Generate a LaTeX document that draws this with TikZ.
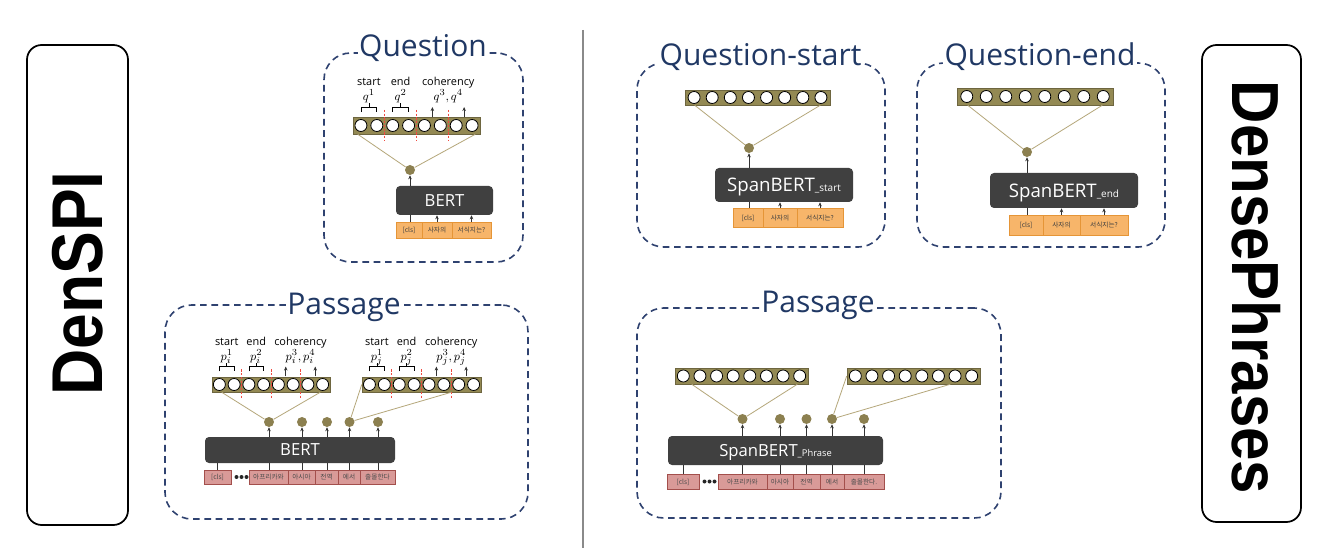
\documentclass[tikz,border=0pt]{standalone}
\usepackage{fontspec}
\usepackage{graphicx}
\usetikzlibrary{fit,calc,arrows.meta}
\newfontfamily\osans{Open Sans}
\newfontfamily\krf{Noto Sans CJK KR}
\newfontfamily\lsans{Liberation Sans}
\definecolor{navy}{HTML}{203864}
\definecolor{dashc}{HTML}{2F4270}
\definecolor{olive}{HTML}{938953}
\definecolor{olived}{HTML}{6E6640}
\definecolor{dotc}{HTML}{8C8050}
\definecolor{tanl}{HTML}{B5A77A}
\definecolor{bertc}{HTML}{404040}
\definecolor{orf}{HTML}{F7B56A}
\definecolor{ord}{HTML}{E59537}
\definecolor{pkf}{HTML}{D99A98}
\definecolor{pkd}{HTML}{A34F4C}
\definecolor{sepc}{HTML}{F04A40}
\definecolor{divc}{HTML}{8A8A8A}
\tikzset{
 dashbox/.style={draw=dashc, line width=1.2pt, dash pattern=on 5pt off 3.5pt, rounded corners=20pt, inner sep=0pt},
 ttl/.style={fill=white, text=navy, font=\osans\fontsize{22.5}{24}\selectfont, inner xsep=1pt, inner ysep=0pt, anchor=base},
 vbarbox/.style={fill=olive, draw=olived, line width=0.4pt, inner sep=0pt},
 circ/.style={circle, draw=black, line width=0.6pt, fill=white, minimum size=9pt, inner sep=0pt},
 dotn/.style={circle, fill=dotc, minimum size=7.5pt, inner sep=0pt},
 bertbox/.style={fill=bertc, rounded corners=3pt, inner sep=0pt, text=white},
 qtok/.style={fill=orf, draw=ord, line width=0.6pt, inner sep=0pt, font=\krf\fontsize{5}{6}\selectfont, text=black!75},
 ptok/.style={fill=pkf, draw=pkd, line width=0.6pt, inner sep=0pt, font=\krf\fontsize{5}{6}\selectfont, text=black!70},
 ln/.style={draw=black!80, line width=0.45pt},
 arr/.style={ln, -{Stealth[length=3pt,width=2.6pt]}},
 tanln/.style={draw=tanl, line width=0.6pt},
 sepl/.style={draw=sepc, line width=0.55pt, dash pattern=on 1.6pt off 1.2pt},
 brk/.style={draw=black, line width=0.5pt},
 lab/.style={font=\osans\fontsize{8.2}{9}\selectfont, inner sep=0pt, anchor=base},
 mlab/.style={font=\fontsize{9.5}{10}\selectfont, inner sep=0pt, anchor=base},
 sidebox/.style={draw=black, line width=1.3pt, rounded corners=11pt, inner sep=0pt},
 bul/.style={circle, fill=black!85, minimum size=3pt, inner sep=0pt},
}
\newcommand{\rbox}[7]{%
  \pgfmathsetmacro{\rbw}{(#5-#3)*0.75}%
  \pgfmathsetmacro{\rbh}{(#6-#4)*0.75}%
  \node[#1, minimum width=\rbw pt, minimum height=\rbh pt, text depth=0pt] (#2) at ({(#3+#5)/2},{(#4+#6)/2}) {#7};
}
\newcommand{\vecbar}[5]{%
  \node[vbarbox, fit={(#2,#3) (#4,#5)}] (#1) {};
  \pgfmathsetmacro{\vbpitch}{(#4-#2)/8}%
  \pgfmathsetmacro{\vbcy}{(#3+#5)/2}%
  \foreach \i in {1,...,8}{%
    \pgfmathsetmacro{\vbcx}{#2+(\i-0.5)*\vbpitch}%
    \node[circ] (#1-\i) at (\vbcx,\vbcy) {};
  }%
}
\newcommand{\barnotes}[5]{%
  \foreach \a/\b in {1/2,2/3,3/4,4/5,5/6,6/7,7/8}{\coordinate (#1-m\a\b) at ($(#1-\a)!0.5!(#1-\b)$);}%
  \foreach \p in {23,45,67}{\draw[sepl] ($(#1-m\p)+(0,-15.5*#5)$) -- ($(#1-m\p)+(0,14.5)$);}%
  \foreach \a/\b in {1/2,3/4}{%
    \draw[brk] ($(#1-\a)+(0,-13.5*#5)$) -- ($(#1-\a)+(0,-18.5*#5)$) -- ($(#1-\b)+(0,-18.5*#5)$) -- ($(#1-\b)+(0,-13.5*#5)$);
    \draw[brk] ($(#1-m\a\b)+(0,-18.5*#5)$) -- ($(#1-m\a\b)+(0,-22*#5)$);
  }%
  \foreach \p in {56,78}{\draw[arr] ($(#1-m\p)+(0,-8)$) -- ($(#1-m\p)+(0,-18.5*#5)$);}%
  \node[lab] (#1-ls) at ($(#1-m12)+(0,-40*#5)$) {start};
  \node[lab] (#1-le) at ($(#1-m34)+(0,-40*#5)$) {end};
  \node[lab] (#1-lc) at ($(#1-m67)+(0,-40*#5)$) {coherency};
  \node[mlab] (#1-q1) at ($(#1-m12)+(0,-25*#5)$) {#2};
  \node[mlab] (#1-q2) at ($(#1-m34)+(0,-25*#5)$) {#3};
  \node[mlab] (#1-q3) at ($(#1-m67)+(0,-25*#5)$) {#4};
}
\begin{document}
\begin{tikzpicture}[x=0.75pt,y=-0.75pt]
\path[use as bounding box, fill=white] (0,0) rectangle (1341,548);

% side labels
\node[sidebox, fit={(27,45) (128,525)}] (denspibox) {};
\node[anchor=base, rotate=90, inner sep=0pt] (denspi) at (102,283.5) {\lsans\bfseries\fontsize{54}{60}\selectfont\scalebox{0.89}[1]{DenSPI}};
\node[sidebox, fit={(1202,45) (1301,522)}] (dpbox) {};
\node[anchor=base, rotate=-90, inner sep=0pt] (dp) at (1232,287.5) {\lsans\bfseries\fontsize{50}{56}\selectfont\scalebox{0.9}[1]{DensePhrases}};

% divider
\coordinate (dv1) at (583,30);
\coordinate (dv2) at (583,548);
\draw[divc, line width=0.8pt] (dv1) -- (dv2);

% ================= DenSPI Question =================
\node[dashbox, fit={(324,53) (523,262)}] (qbox) {};
\node[ttl] (qttl) at (423,57) {Question};
\vecbar{qb}{353}{117}{480}{134}
\barnotes{qb}{$q^1$}{$q^2$}{$q^3,q^4$}{1}
\node[dotn] (qd) at (410,170) {};
\rbox{bertbox, font=\osans\fontsize{12.5}{14}\selectfont}{qbert}{396}{186}{493}{215}{BERT}
\rbox{qtok}{qt1}{396}{222}{422}{238}{[cls]}
\rbox{qtok}{qt2}{422}{222}{452}{238}{사자의}
\rbox{qtok}{qt3}{452}{222}{491}{238}{서식지는?}
\draw[ln] (qt1.north -| qd) -- (qbert.south -| qd);
\draw[arr] (qt2.north) -- (qt2.north |- qbert.south);
\draw[arr] (qt3.north) -- (qt3.north |- qbert.south);
\draw[arr] (qbert.north -| qd) -- (qd.south);
\draw[tanln] ($(qb.south west)+(5,0)$) -- (qd);
\draw[tanln] ($(qb.south east)+(-5,0)$) -- (qd);

% ================= DenSPI Passage =================
\node[dashbox, fit={(165,305) (528,519)}] (pbox) {};
\node[ttl] (pttl) at (344,315) {Passage};
\vecbar{pl}{212}{377}{330}{392}
\barnotes{pl}{$p_i^1$}{$p_i^2$}{$p_i^3,p_i^4$}{0.97}
\vecbar{pr}{362}{377}{481}{392}
\barnotes{pr}{$p_j^1$}{$p_j^2$}{$p_j^3,p_j^4$}{0.97}
\node[dotn] (pd1) at (269,422) {};
\node[dotn] (pd2) at (302,422) {};
\node[dotn] (pd3) at (327,422) {};
\node[dotn] (pd4) at (349.5,422) {};
\node[dotn] (pd5) at (378,422) {};
\rbox{bertbox, font=\osans\fontsize{12.5}{14}\selectfont}{pbert}{205}{437}{395}{463}{BERT}
\rbox{ptok}{pt0}{204}{470}{231}{484}{[cls]}
\node[bul] (pb1) at (236.5,477) {};
\node[bul] (pb2) at (241.5,477) {};
\node[bul] (pb3) at (246.5,477) {};
\rbox{ptok}{pt1}{249}{470}{288}{484}{아프리카와}
\rbox{ptok}{pt2}{288}{470}{315}{484}{아시아}
\rbox{ptok}{pt3}{315}{470}{338}{484}{전역}
\rbox{ptok}{pt4}{338}{470}{360}{484}{에서}
\rbox{ptok}{pt5}{360}{470}{395}{484}{출몰한다}
\draw[ln] (pt0.north) -- (pt0.north |- pbert.south);
\foreach \k in {1,...,5}{
  \draw[ln] (pt\k.north -| pd\k) -- (pbert.south -| pd\k);
  \draw[arr] (pbert.north -| pd\k) -- (pd\k.south);
}
\draw[tanln] ($(pl.south west)+(10,0)$) -- (pd1);
\draw[tanln] ($(pl.south east)+(-10,0)$) -- (pd1);
\draw[tanln] (pr.west) -- (pd4);
\draw[tanln] ($(pr.south east)+(-30,0)$) -- (pd4);

% ================= Question-start =================
\node[dashbox, fit={(637,63) (885,247)}] (sbox) {};
\node[ttl] (sttl) at (760.5,66) {Question-start};
\vecbar{sb}{685}{90}{830}{105}
\node[dotn] (sd) at (749,148) {};
\rbox{bertbox, font=\osans\fontsize{14}{16}\selectfont}{sbert}{715}{168}{853}{202}{SpanBERT{\fontsize{7.5}{8}\selectfont\_start}}
\rbox{qtok}{st1}{733}{208}{763}{227}{[cls]}
\rbox{qtok}{st2}{763}{208}{797}{227}{사자의}
\rbox{qtok}{st3}{797}{208}{843}{227}{서식지는?}
\draw[ln] (st1.north -| sd) -- (sbert.south -| sd);
\draw[arr] (st2.north) -- (st2.north |- sbert.south);
\draw[arr] (st3.north) -- (st3.north |- sbert.south);
\draw[arr] (sbert.north -| sd) -- (sd.south);
\draw[tanln] ($(sb.south west)+(10,0)$) -- (sd);
\draw[tanln] ($(sb.south east)+(-10,0)$) -- (sd);

% ================= Question-end =================
\node[dashbox, fit={(917,63) (1165,247)}] (ebox) {};
\node[ttl] (ettl) at (1040,66) {Question-end};
\vecbar{eb}{957}{88}{1113}{105}
\node[dotn] (ed) at (1027,152) {};
\rbox{bertbox, font=\osans\fontsize{14}{16}\selectfont}{ebert}{990}{173}{1138}{208}{SpanBERT{\fontsize{7.5}{8}\selectfont\_end}}
\rbox{qtok}{et1}{1009}{215}{1043}{235}{[cls]}
\rbox{qtok}{et2}{1043}{215}{1080}{235}{사자의}
\rbox{qtok}{et3}{1080}{215}{1128}{235}{서식지는?}
\draw[ln] (et1.north -| ed) -- (ebert.south -| ed);
\draw[arr] (et2.north) -- (et2.north |- ebert.south);
\draw[arr] (et3.north) -- (et3.north |- ebert.south);
\draw[arr] (ebert.north -| ed) -- (ed.south);
\draw[tanln] ($(eb.south west)+(11,0)$) -- (ed);
\draw[tanln] ($(eb.south east)+(-11,0)$) -- (ed);

% ================= DensePhrases Passage =================
\node[dashbox, fit={(637,308) (1001,518)}] (dbox) {};
\node[ttl] (dttl) at (818,313) {Passage};
\vecbar{dl}{675}{368}{808}{384}
\vecbar{dr}{847}{368}{980}{384}
\node[dotn] (dd1) at (742.5,419) {};
\node[dotn] (dd2) at (780,419) {};
\node[dotn] (dd3) at (806.5,419) {};
\node[dotn] (dd4) at (832,419) {};
\node[dotn] (dd5) at (864,419) {};
\rbox{bertbox, font=\osans\fontsize{12.5}{14}\selectfont}{dbert}{668}{436}{883}{465}{SpanBERT{\fontsize{7}{8}\selectfont\_Phrase}}
\rbox{ptok}{dt0}{667}{474}{699}{489}{[cls]}
\node[bul] (db1) at (704.5,481.5) {};
\node[bul] (db2) at (709.5,481.5) {};
\node[bul] (db3) at (714.5,481.5) {};
\rbox{ptok}{dt1}{718}{474}{767}{489}{아프리카와}
\rbox{ptok}{dt2}{767}{474}{793}{489}{아시아}
\rbox{ptok}{dt3}{793}{474}{820}{489}{전역}
\rbox{ptok}{dt4}{820}{474}{844}{489}{에서}
\rbox{ptok}{dt5}{844}{474}{884}{489}{출몰한다.}
\draw[ln] (dt0.north) -- (dt0.north |- dbert.south);
\foreach \k in {1,...,5}{
  \draw[ln] (dt\k.north -| dd\k) -- (dbert.south -| dd\k);
  \draw[arr] (dbert.north -| dd\k) -- (dd\k.south);
}
\draw[tanln] ($(dl.south west)+(17,0)$) -- (dd1);
\draw[tanln] ($(dl.south east)+(-11,0)$) -- (dd1);
\draw[tanln] (dr.west) -- (dd4);
\draw[tanln] ($(dr.south east)+(-30,0)$) -- (dd4);
\end{tikzpicture}
\end{document}
